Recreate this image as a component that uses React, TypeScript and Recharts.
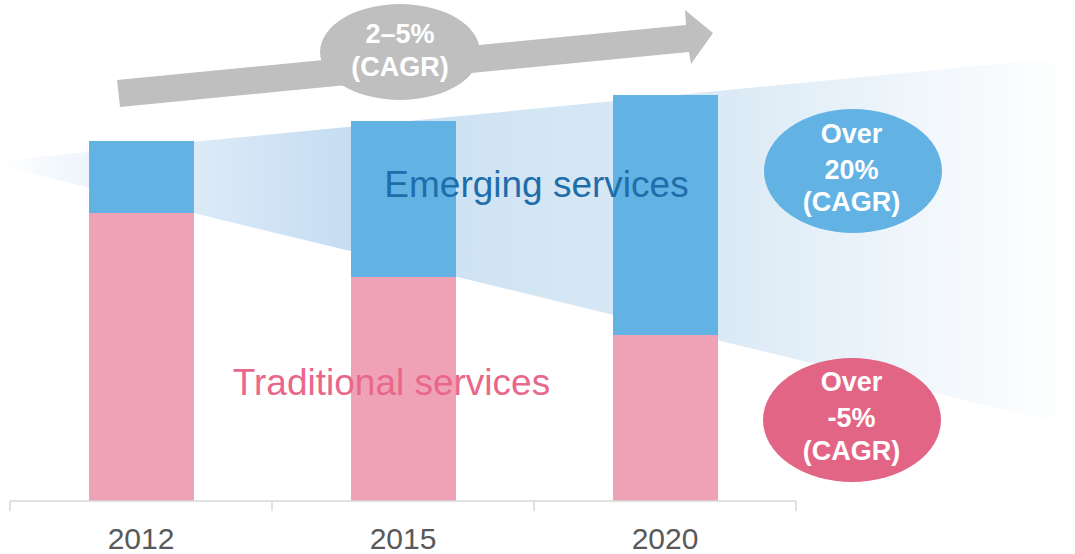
import React from 'react';
import { BarChart, Bar, XAxis, YAxis } from 'recharts';

const categories = ['2012', '2015', '2020'];
const traditionalValues = [72, 56, 41.5];
const emergingValues = [18, 39, 60];
const yDomain: [number, number] = [0, 110];

const growthLabel = ['2–5%', '(CAGR)'];
const emergingLabel = ['Over', '20%', '(CAGR)'];
const traditionalLabel = ['Over', '-5%', '(CAGR)'];

const W = 1075;
const H = 554;
const MARGIN = { top: 61, right: 279, bottom: 0, left: 10 };
const TICK_SIZE = 10;
const TICK_MARGIN = 17;
const FONT = '"Liberation Sans", Arial, Helvetica, sans-serif';

const data = categories.map((c, i) => ({
  year: c,
  traditional: traditionalValues[i],
  emerging: emergingValues[i],
}));

const halfBand = (W - MARGIN.left - MARGIN.right) / categories.length / 2;

const YearTick = (props: any) => {
  const { x, y, payload, index } = props;
  const axisY = y - TICK_SIZE - TICK_MARGIN;
  const last = index === categories.length - 1;
  return (
    <g>
      <line x1={x - halfBand} x2={x - halfBand} y1={axisY} y2={axisY + TICK_SIZE} stroke="#d9d9d9" strokeWidth={1.5} />
      {last && (
        <line x1={x + halfBand} x2={x + halfBand} y1={axisY} y2={axisY + TICK_SIZE} stroke="#d9d9d9" strokeWidth={1.5} />
      )}
      <text x={x} y={y} dy="0.71em" textAnchor="middle" fontSize={30} fill="#595959" fontFamily={FONT}>
        {payload.value}
      </text>
    </g>
  );
};

const EllipseLabel = ({ cx, cy, rx, ry, fill, lines, baselines, cxText }: any) => (
  <g>
    <ellipse cx={cx} cy={cy} rx={rx} ry={ry} fill={fill} />
    {lines.map((t: string, i: number) => (
      <text key={i} x={cxText ?? cx} y={baselines[i]} textAnchor="middle" fontSize={27} fontWeight="bold" fill="#ffffff" fontFamily={FONT}>
        {t}
      </text>
    ))}
  </g>
);

export default function App() {
  return (
    <div style={{ position: 'absolute', left: 0, top: 0, width: W, height: H, background: '#ffffff', overflow: 'hidden' }}>
      <svg width={W} height={H} style={{ position: 'absolute', left: 0, top: 0 }}>
        <defs>
          <linearGradient id="wedgeGrad" gradientUnits="userSpaceOnUse" x1={0} y1={0} x2={W} y2={0}>
            <stop offset="0" stopColor="#ffffff" />
            <stop offset="0.1" stopColor="#e9f2fa" />
            <stop offset="0.32" stopColor="#c6ddf2" />
            <stop offset="0.5" stopColor="#d3e6f4" />
            <stop offset="0.68" stopColor="#dbeaf6" />
            <stop offset="0.85" stopColor="#f0f6fb" />
            <stop offset="1" stopColor="#ffffff" />
          </linearGradient>
        </defs>
        <polygon points="0,160.5 1075,56.5 1075,427 0,166" fill="url(#wedgeGrad)" />
      </svg>
      <div style={{ position: 'absolute', left: 0, top: 0 }}>
        <BarChart width={W} height={H} data={data} margin={MARGIN}>
          <XAxis
            dataKey="year"
            height={53}
            axisLine={{ stroke: '#d9d9d9', strokeWidth: 1.5 }}
            tickLine={false}
            tickSize={TICK_SIZE}
            tickMargin={TICK_MARGIN}
            tick={<YearTick />}
            interval={0}
          />
          <YAxis hide domain={yDomain} />
          <Bar dataKey="traditional" stackId="a" fill="#efa2b5" barSize={105} isAnimationActive={false} />
          <Bar dataKey="emerging" stackId="a" fill="#62b3e4" barSize={105} isAnimationActive={false} />
        </BarChart>
      </div>
      <svg width={W} height={H} style={{ position: 'absolute', left: 0, top: 0, pointerEvents: 'none' }}>
        <polygon points="117,80 120,107 689,52 691,64 713,33 685,10 686,25" fill="#bfbfbf" />
        <EllipseLabel cx={400} cy={52} rx={80} ry={48} fill="#bfbfbf" lines={growthLabel} baselines={[43, 76]} />
        <EllipseLabel cx={853} cy={171} rx={89} ry={62} cxText={851.5} fill="#62b3e4" lines={emergingLabel} baselines={[143, 179, 211]} />
        <EllipseLabel cx={852} cy={420} rx={89} ry={62} cxText={851.5} fill="#e36585" lines={traditionalLabel} baselines={[391, 427, 460]} />
        <text x={536.5} y={197} textAnchor="middle" fontSize={37} fill="#1f6dab" fontFamily={FONT}>
          Emerging services
        </text>
        <text x={391.5} y={395} textAnchor="middle" fontSize={37} fill="#e8678a" fontFamily={FONT}>
          Traditional services
        </text>
      </svg>
    </div>
  );
}
